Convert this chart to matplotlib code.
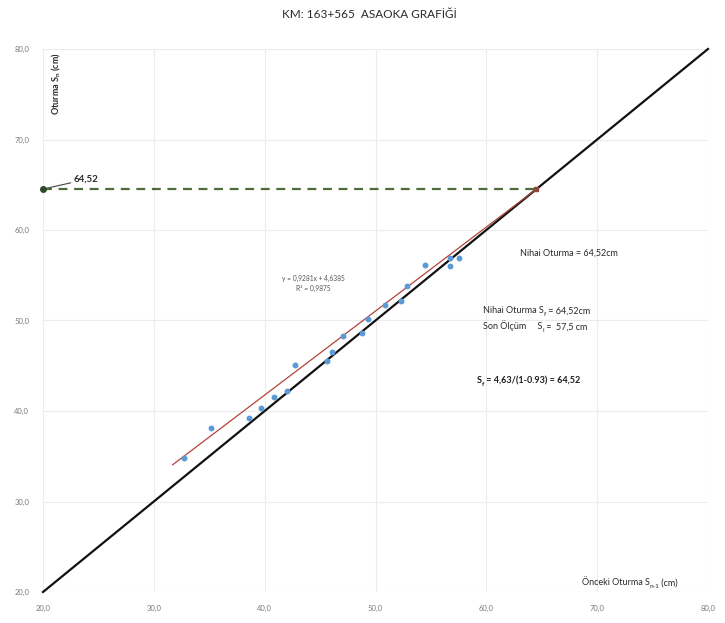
import matplotlib
matplotlib.use("Agg")
import matplotlib.pyplot as plt
import numpy as np

plt.rcParams['font.family'] = ['Lato', 'DejaVu Sans']
plt.rcParams['mathtext.fontset'] = 'custom'
plt.rcParams['mathtext.rm'] = 'Lato'
plt.rcParams['mathtext.it'] = 'Lato:italic'
plt.rcParams['mathtext.bf'] = 'Lato:bold'

# Measured settlements: previous reading S(n-1) vs current reading S(n), cm
s_prev = [32.75, 35.16, 38.56, 39.67, 40.85, 42.00, 42.77, 45.63, 46.06, 47.08,
          48.82, 49.31, 50.87, 52.34, 52.88, 54.48, 56.76, 56.76, 57.55]
s_curr = [34.80, 38.15, 39.20, 40.33, 41.55, 42.24, 45.10, 45.56, 46.52, 48.25,
          48.59, 50.17, 51.68, 52.19, 53.85, 56.13, 56.87, 56.05, 56.87]

# Linear trend fitted to the Asaoka points
slope = 0.9281
intercept = 4.6385
r_squared = 0.9875
trend_start = 31.7

final_settlement = 64.52
axis_min, axis_max = 20, 80
ticks = [20, 30, 40, 50, 60, 70, 80]
tick_labels = ["20,0", "30,0", "40,0", "50,0", "60,0", "70,0", "80,0"]

fig = plt.figure(figsize=(7.25, 6.23), dpi=100)
ax = fig.add_axes([43 / 725, 31 / 623, 665 / 725, 543 / 623])

ax.set_xlim(axis_min, axis_max)
ax.set_ylim(axis_min, axis_max)
ax.set_xticks(ticks)
ax.set_yticks(ticks)
ax.set_xticklabels(tick_labels)
ax.set_yticklabels(tick_labels)
ax.tick_params(axis='both', length=0, labelsize=5.5, labelcolor='#7a7a7a')
ax.tick_params(axis='x', pad=9)
ax.tick_params(axis='y', pad=10)
ax.grid(True, color='#ececec', linewidth=0.8)
ax.set_axisbelow(True)
for sp in ax.spines.values():
    sp.set_visible(False)

renderer = fig.canvas.get_renderer()


def text_runs(x, y, runs, size=6.5, weight='normal', color='#2a2a2a'):
    """Draw a line of text made of normal and subscript pieces, left to right."""
    px, py = ax.transData.transform((x, y))
    for piece, sub in runs:
        fs = size * 0.72 if sub else size
        dy = -size * 0.28 * fig.dpi / 72 if sub else 0
        dx_data, dy_data = ax.transData.inverted().transform((px, py + dy))
        t = ax.text(dx_data, dy_data, piece, ha='left', va='baseline',
                    fontsize=fs, fontweight=weight, color=color)
        bb = t.get_window_extent(renderer)
        px = bb.x1


# 45-degree reference line S(n) = S(n-1)
diag = [axis_min, axis_max]
ax.plot(diag, diag, color='#111111', linewidth=1.6, zorder=3, clip_on=False)

# Trend line up to its intersection with the 45-degree line
x_fit = np.array([trend_start, final_settlement])
ax.plot(x_fit, slope * x_fit + intercept, color='#b0443a', linewidth=0.9, zorder=4)

# Measured points
ax.scatter(s_prev, s_curr, s=18, color='#5b9bd5', zorder=5, linewidths=0)

# Final settlement projection
ax.plot([axis_min, final_settlement], [final_settlement, final_settlement],
        color='#4e6b3a', linewidth=1.6, linestyle=(0, (4, 3)), zorder=4)
ax.plot([final_settlement], [final_settlement], marker='s', markersize=3.5,
        color='#8b4a3a', zorder=6)
ax.plot([axis_min], [final_settlement], marker='o', markersize=4,
        color='#2f4a2a', zorder=6, clip_on=False)
ax.annotate("64,52", xy=(axis_min, final_settlement), xytext=(22, 7),
            textcoords='offset points', fontsize=7, fontweight='bold',
            color='#2a2a2a', va='center', ha='left',
            arrowprops=dict(arrowstyle='-', color='#444444', lw=0.8,
                            shrinkA=0, shrinkB=2))

# Title and axis labels
fig.text(369 / 725, 1 - 15 / 623, "KM: 163+565  ASAOKA GRAFİĞİ",
         ha='center', va='center', fontsize=8.5, color='#2a2a2a')
ax.text(0.011, 0.995, r"Oturma $\mathregular{S_{n}}$ (cm)", transform=ax.transAxes,
        rotation=90, ha='left', va='top', fontsize=6.5, fontweight='bold',
        color='#2a2a2a')
text_runs(68.6, 20.75, [("Önceki Oturma S", False), ("n-1", True), (" (cm)", False)])

# Trend equation
ax.text(44.4, 54.6, "y = 0,9281x + 4,6385", ha='center', va='center',
        fontsize=4.8, color='#555555')
ax.text(44.4, 53.5, "R² = 0,9875", ha='center', va='center',
        fontsize=4.8, color='#555555')

# Result notes
text_runs(63.05, 57.2, [("Nihai Oturma = 64,52cm", False)])
text_runs(59.7, 50.8, [("Nihai Oturma S", False), ("f", True), (" = 64,52cm", False)])
text_runs(59.7, 49.03, [("Son Ölçüm     S", False), ("i", True), (" =  57,5 cm", False)])
text_runs(59.15, 43.05, [("S", False), ("f", True), (" = 4,63/(1-0.93) = 64,52", False)],
          weight='bold', color='#1e1e1e')

fig.savefig("out.png", dpi=100, facecolor='white')
